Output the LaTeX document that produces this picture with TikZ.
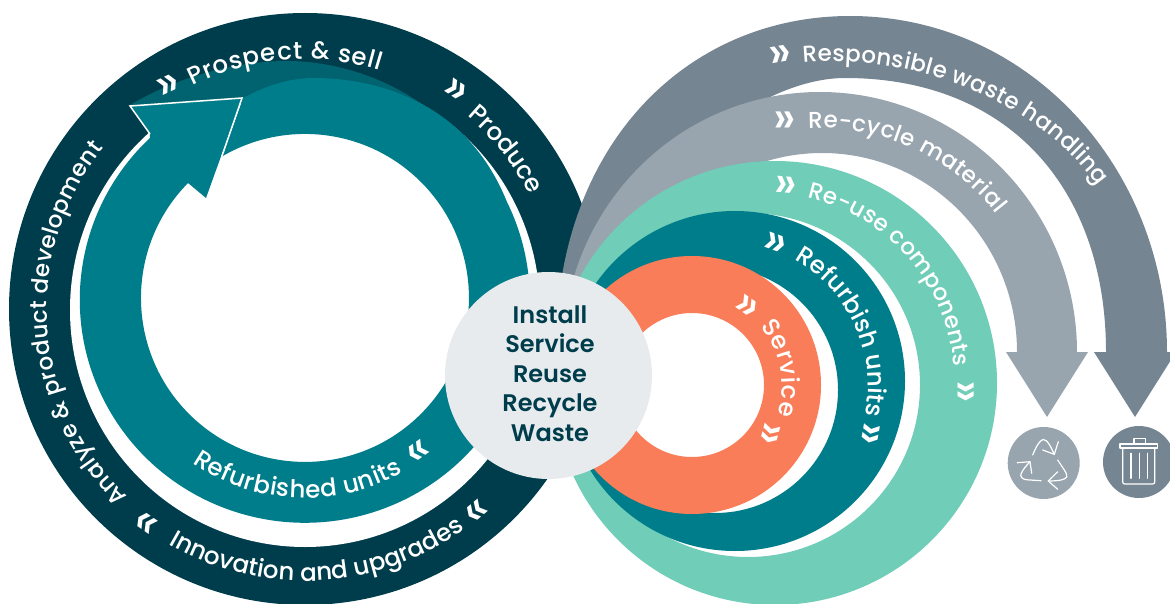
\documentclass[tikz,border=0pt]{standalone}
\usepackage{fontspec}
\setmainfont{Poppins}[UprightFont=* Medium,BoldFont=* SemiBold]
\usetikzlibrary{decorations.text}
\definecolor{cdark}{HTML}{003D4C}
\definecolor{cteal}{HTML}{007D8A}
\definecolor{cmid}{HTML}{00636F}
\definecolor{cgreen}{HTML}{6FCDB8}
\definecolor{corange}{HTML}{F97D58}
\definecolor{cgrayd}{HTML}{758592}
\definecolor{cgrayl}{HTML}{98A5AE}
\definecolor{ccentre}{HTML}{E8EBEE}
\newcommand\TX{\fontsize{24.5}{24.5}\selectfont}
\newcommand\TXS{\fontsize{23}{23}\selectfont}
\tikzset{
  curved/.style={decorate,decoration={text along path,text={|\TX|#1},text align={fit to path},text color=white}},
  curvedsmall/.style={decorate,decoration={text along path,text={|\TXS|#1},text align={fit to path},text color=white}},
  chev/.style={text=white,inner sep=0pt,font=\fontsize{46}{46}\selectfont},
  iconline/.style={draw=white,line width=1.2pt,line cap=round,line join=round},
}
\begin{document}
\begin{tikzpicture}[x=1pt,y=1pt]
\useasboundingbox (0,0) rectangle (1170,-604);
\clip (0,0) rectangle (1170,-604);
% left ring
\fill[cdark] (305,-309) circle[radius=296];
\fill[white] (305,-310) ellipse[x radius=235,y radius=237];
\fill[cmid] (130,-105) .. controls (175,-78) and (235,-61) .. (287,-61) .. controls (335,-61) and (385,-78) .. (420,-103) -- cycle;
\fill[cdark] (420,-103) .. controls (440,-103) and (450,-115) .. (446,-118) -- cycle;
\fill[cteal] (243,-98) .. controls (265,-86) and (290,-78) .. (313,-78) .. controls (355,-78) and (392,-88) .. (420,-103) .. controls (462,-125) and (490,-160) .. (507,-202)
  arc[start angle=26,end angle=-226.5,x radius=225,y radius=223] -- (150,-134)
  -- (130,-106) -- (242,-98) -- (206,-198) -- (188,-183) arc[start angle=135.5,end angle=480.3,radius=164] -- cycle;
\draw[white,line width=1.5pt,line join=miter] (150,-134) -- (130,-106) -- (242,-98) -- (222,-156);
% right bands
\fill[cgrayd] (556,-340) .. controls (560,-140) and (690,-16) .. (850,-16) .. controls (1030,-16) and (1167,-170) .. (1167,-352)
  -- (1176,-352) -- (1135,-417) -- (1094,-352) -- (1106,-352)
  .. controls (1106,-190) and (1010,-78) .. (845,-78) .. controls (770,-78) and (640,-150) .. (590,-350) -- cycle;
\fill[cgrayl] (820,-352) ++(190:257 and 260) arc[start angle=190,end angle=0,x radius=257,y radius=260]
  -- (1088,-352) -- (1047,-417) -- (1006,-352) -- (1017,-352) arc[start angle=0,end angle=180,x radius=195,y radius=199] -- cycle;
\fill[cgreen,even odd rule] (775,-383) circle[radius=222] (748,-385) circle[radius=172];
\fill[cteal,even odd rule] (735,-381) circle[radius=170] (715,-390) circle[radius=123];
\fill[corange,even odd rule] (692,-385) circle[radius=129] (692,-385) circle[radius=72];
% centre
\node[circle,fill=ccentre,minimum size=207pt,inner sep=0pt] (hub) at (548.5,-375.5) {};
\node[text=cdark,align=center,font=\fontsize{24}{29.4}\selectfont\bfseries] (hubtext) at (550,-373.5) {Install\\Service\\Reuse\\Recycle\\Waste};
% texts
\path[curved={Prospect {\&} sell}] (305,-309) ++(116.8:250) arc[start angle=116.8,end angle=72.6,radius=250];
\path[curved={Produce}] (305,-309) ++(50:252) arc[start angle=50,end angle=27,radius=252];
\path[curvedsmall={Analyze {\&} product development}] (305,-309) ++(226.7:258) arc[start angle=226.7,end angle=141.5,radius=258];
\path[curved={Innovation and upgrades}] (305,-309) ++(239.9:272) arc[start angle=239.9,end angle=305.2,radius=272];
\path[curved={Refurbished units}] (305,-298) ++(235.7:200) arc[start angle=235.7,end angle=299.4,radius=200];
\path[curvedsmall={Responsible waste handling}] (803,-63) .. controls (920,-52) and (1040,-105) .. (1098,-186);
\path[curvedsmall={Re-cycle material}] (820,-352) ++(93:224) arc[start angle=93,end angle=38,radius=224];
\path[curvedsmall={Re-use components}] (765,-383) ++(77:190) arc[start angle=77,end angle=5,radius=190];
\path[curved={Refurbish units}] (725,-385) ++(61:143) arc[start angle=61,end angle=-11,radius=143];
\path[curved={Service}] (692,-385) ++(40.6:90) arc[start angle=40.6,end angle=-19.4,radius=90];
% chevrons
\node[chev,rotate=25] (c1) at (169,-87) {»};
\node[chev,rotate=-34] (c2) at (455,-92) {»};
\node[chev,rotate=-35] (c3) at (145,-525) {«};
\node[chev,rotate=40] (c4) at (478,-513) {«};
\node[chev,rotate=35] (c5) at (420,-453) {«};
\node[chev,rotate=10] (c6) at (781,-57) {»};
\node[chev,rotate=0] (c7) at (785,-123) {»};
\node[chev,rotate=-5] (c8) at (786,-188) {»};
\node[chev,rotate=-20] (c9) at (775,-245) {»};
\node[chev,rotate=-35] (c10) at (746,-308) {»};
\node[chev,rotate=-90] (c11) at (963,-392) {»};
\node[chev,rotate=-100] (c12) at (868,-433) {»};
\node[chev,rotate=-105] (c13) at (768,-433) {»};
% recycle icon
\node[circle,fill=cgrayl,minimum size=72pt,inner sep=0pt] (recycle) at (1043.7,-463) {};
\draw[iconline] (1032.7,-455) .. controls (1036,-447) and (1039,-441) .. (1043,-439.5) .. controls (1047,-439) and (1051,-447) .. (1054.3,-454.3);
\draw[iconline] (1058.3,-441.7) -- (1054.3,-454.3) -- (1042.7,-450);
\draw[iconline] (1057.7,-460) .. controls (1062,-467) and (1068,-474) .. (1066.7,-477) .. controls (1065,-480) and (1058,-481) .. (1048.3,-481);
\draw[iconline] (1057.7,-471.7) -- (1048.3,-481) -- (1057.7,-489.3);
\draw[iconline] (1041,-480.7) -- (1027,-479.8) .. controls (1022,-479.5) and (1020,-476) .. (1021,-474) .. controls (1023,-469) and (1027,-465) .. (1030,-461.7);
\draw[iconline] (1017.3,-462.7) -- (1030,-461.7) -- (1031.7,-473.3);
% trash icon
\node[circle,fill=cgrayd,minimum size=72pt,inner sep=0pt] (trash) at (1139,-462) {};
\draw[iconline] (1134,-444) -- (1134,-438.3) -- (1145.3,-438.3) -- (1145.3,-444);
\draw[iconline] (1120,-444) rectangle (1157.3,-448);
\draw[iconline,rounded corners=2pt] (1122.7,-448) -- (1122.7,-484) -- (1154.7,-484) -- (1154.7,-448);
\draw[iconline] (1131,-453.3) -- (1131,-478.3) (1139.3,-453.3) -- (1139.3,-478.3) (1147.3,-453.3) -- (1147.3,-478.3);
\end{tikzpicture}
\end{document}
